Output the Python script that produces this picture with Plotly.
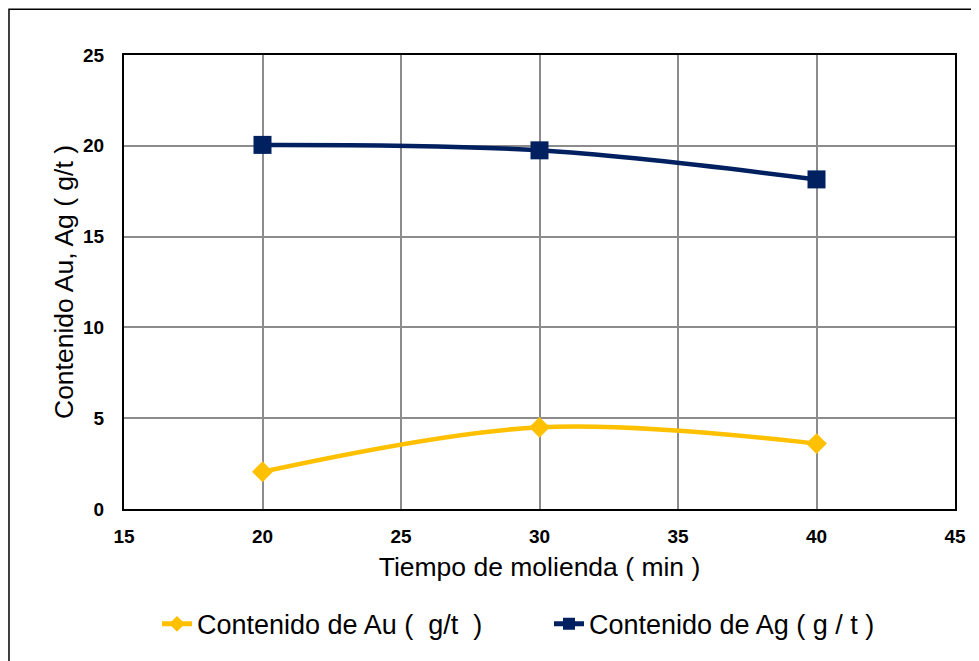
import plotly.graph_objects as go

tiempo = [20, 30, 40]
au = [2.05, 4.5, 3.6]
ag = [20.05, 19.75, 18.15]
name_au = "Contenido de Au (\u00a0 g/t\u00a0 )"
name_ag = "Contenido de Ag ( g / t )"

FONT = "Liberation Sans, Arial"

fig = go.Figure()
fig.add_trace(go.Scatter(x=tiempo, y=au, name=name_au, mode="lines+markers",
                         line=dict(color="#FFC000", width=4.5, shape="spline", smoothing=1),
                         marker=dict(symbol="diamond", size=16, color="#FFC000")))
fig.add_trace(go.Scatter(x=tiempo, y=ag, name=name_ag, mode="lines+markers",
                         line=dict(color="#002060", width=4.5, shape="spline", smoothing=1),
                         marker=dict(symbol="square", size=18, color="#002060")))

axis_common = dict(showgrid=True, gridcolor="#8C8C8C", gridwidth=1.5,
                   showline=True, linecolor="black", linewidth=2, mirror=True,
                   zeroline=False, ticks="",
                   tickfont=dict(family=FONT, size=19, color="black", weight="bold"),
                   title_font=dict(family=FONT, size=26.5, color="black"))

fig.update_xaxes(range=[15, 45], dtick=5, title_text="Tiempo de molienda ( min )",
                 ticklabelstandoff=9, title_standoff=12, **axis_common)
fig.update_yaxes(range=[0, 25], dtick=5, title_text="Contenido Au, Ag ( g/t )",
                 ticklabelstandoff=14, title_standoff=2, **axis_common)

fig.add_shape(type="rect", xref="paper", yref="paper", x0=-0.1384, x1=1.04, y0=-0.36, y1=1.1007,
              line=dict(color="black", width=1.5), fillcolor="rgba(0,0,0,0)", layer="above")

fig.update_layout(
    width=971, height=653,
    margin=dict(l=116, r=24, t=47, b=149),
    plot_bgcolor="white", paper_bgcolor="white",
    font=dict(family=FONT, color="black"),
    showlegend=True,
    legend=dict(orientation="h", x=0.0397, xanchor="left", y=-0.254, yanchor="middle",
                font=dict(family=FONT, size=27, color="black"),
                entrywidth=347, entrywidthmode="pixels",
                traceorder="normal", itemsizing="constant"),
)

fig.write_html("out.html")
